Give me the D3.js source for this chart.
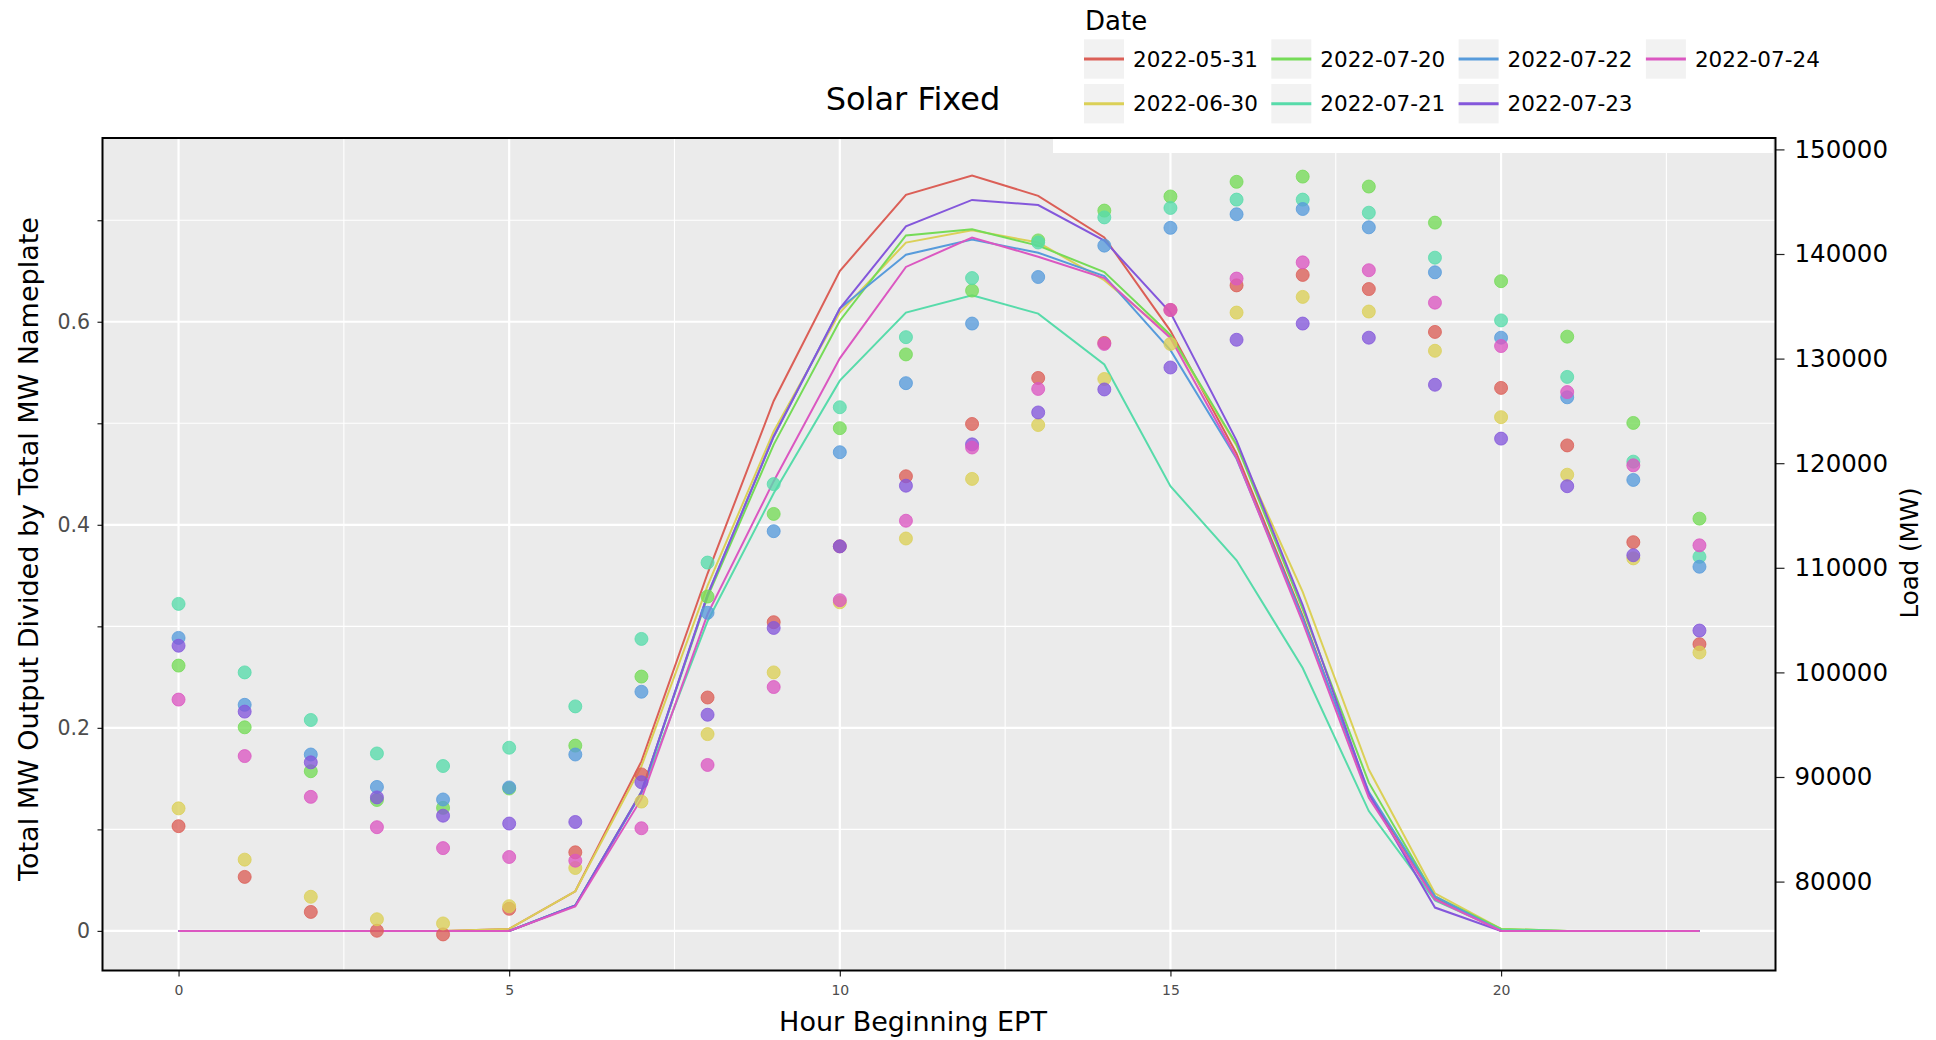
<!DOCTYPE html>
<html>
<head>
<meta charset="utf-8">
<script src="https://cdn.jsdelivr.net/npm/d3@7"></script>
<style>
  body { margin: 0; background: #fff; }
  svg { display: block; }
  text { font-family: "DejaVu Sans", sans-serif; }
</style>
</head>
<body>
<svg id="chart" width="1936" height="1040"></svg>
<script>
// Categories
const hours = [0, 1, 2, 3, 4, 5, 6, 7, 8, 9, 10, 11, 12, 13, 14, 15, 16, 17, 18, 19, 20, 21, 22, 23];
const dates = ["2022-05-31", "2022-06-30", "2022-07-20", "2022-07-21", "2022-07-22", "2022-07-23", "2022-07-24"];
const colors = ["#db5f57", "#dbd057", "#75db57", "#57dbaa", "#579bdb", "#8457db", "#db57c1"];

// Solar fixed output / nameplate (lines, left axis)
const solar_0531 = [0, 0, 0, 0, 0, 0.002, 0.039, 0.167, 0.352, 0.522, 0.650, 0.725, 0.744, 0.724, 0.683, 0.591, 0.470, 0.310, 0.135, 0.033, 0, 0, 0, 0];
const solar_0630 = [0, 0, 0, 0, 0, 0.002, 0.039, 0.162, 0.340, 0.492, 0.609, 0.678, 0.690, 0.678, 0.641, 0.586, 0.478, 0.334, 0.159, 0.037, 0.002, 0, 0, 0];
const solar_0720 = [0, 0, 0, 0, 0, 0, 0.025, 0.137, 0.329, 0.479, 0.601, 0.685, 0.691, 0.675, 0.649, 0.587, 0.479, 0.317, 0.146, 0.034, 0.002, 0, 0, 0];
const solar_0721 = [0, 0, 0, 0, 0, 0, 0.025, 0.136, 0.305, 0.431, 0.542, 0.609, 0.626, 0.608, 0.558, 0.438, 0.365, 0.259, 0.118, 0.030, 0.001, 0, 0, 0];
const solar_0722 = [0, 0, 0, 0, 0, 0, 0.025, 0.136, 0.331, 0.487, 0.613, 0.666, 0.681, 0.668, 0.645, 0.572, 0.465, 0.308, 0.137, 0.034, 0, 0, 0, 0];
const solar_0723 = [0, 0, 0, 0, 0, 0, 0.025, 0.137, 0.331, 0.487, 0.613, 0.694, 0.720, 0.715, 0.680, 0.609, 0.483, 0.321, 0.135, 0.023, 0, 0, 0, 0];
const solar_0724 = [0, 0, 0, 0, 0, 0, 0.024, 0.130, 0.312, 0.443, 0.564, 0.654, 0.683, 0.664, 0.643, 0.584, 0.466, 0.304, 0.131, 0.031, 0, 0, 0, 0];

// Load in MW (points, right axis)
const load_0531 = [85300, 80450, 77100, 75300, 74950, 77400, 82800, 90250, 97600, 104800, 112050, 118750, 123750, 128150, 131500, 134650, 137000, 138000, 136650, 132550, 127200, 121700, 112450, 102700];
const load_0630 = [87000, 82100, 78550, 76400, 76000, 77650, 81300, 87650, 94100, 100000, 106700, 112800, 118500, 123650, 128050, 131400, 134400, 135900, 134500, 130750, 124400, 118900, 110900, 101900];
const load_0720 = [100650, 94750, 90550, 87800, 87050, 88900, 93000, 99600, 107250, 115150, 123350, 130400, 136500, 141300, 144150, 145500, 146900, 147400, 146450, 143000, 137400, 132100, 123850, 114700];
const load_0721 = [106550, 100000, 95450, 92250, 91050, 92800, 96750, 103200, 110500, 118000, 125350, 132050, 137700, 141100, 143500, 144400, 145200, 145200, 143950, 139650, 133650, 128250, 120150, 111050];
const load_0722 = [103300, 96900, 92150, 89050, 87850, 89000, 92150, 98150, 105700, 113500, 121050, 127650, 133350, 137800, 140800, 142500, 143800, 144300, 142550, 138250, 132000, 126300, 118400, 110100];
const load_0723 = [102550, 96250, 91400, 88050, 86300, 85550, 85700, 89500, 95950, 104250, 112050, 117850, 121800, 124850, 127050, 129150, 131800, 133350, 132000, 127500, 122350, 117800, 111200, 104000];
const load_0724 = [97400, 92000, 88100, 85200, 83200, 82350, 82000, 85100, 91150, 98600, 106900, 114500, 121500, 127100, 131400, 134650, 137650, 139200, 138450, 135350, 131200, 126800, 119800, 112150];

// Ticks
const xTicks = [0, 5, 10, 15, 20];
const xMinor = [2.5, 7.5, 12.5, 17.5, 22.5];
const yTicks = [0, 0.2, 0.4, 0.6];
const yMinor = [0.1, 0.3, 0.5, 0.7];
const loadTicks = [80000, 90000, 100000, 110000, 120000, 130000, 140000, 150000];

const solarAll = [solar_0531, solar_0630, solar_0720, solar_0721, solar_0722, solar_0723, solar_0724];
const loadAll = [load_0531, load_0630, load_0720, load_0721, load_0722, load_0723, load_0724];

const series = dates.map((date, i) => ({
  date: date,
  color: colors[i],
  solar: hours.map((h, j) => ({ hour: h, v: solarAll[i][j] })),
  load: hours.map((h, j) => ({ hour: h, v: loadAll[i][j] })),
}));

// The svg
const svg = d3.select("#chart");
const panel = { left: 102.5, right: 1775.5, top: 138, bottom: 970.5 };

const x = d3.scaleLinear().domain([-1.15, 24.15]).range([panel.left, panel.right]);
const yL = d3.scaleLinear().domain([-0.039, 0.781]).range([panel.bottom, panel.top]);
const yR = d3.scaleLinear().domain([71500, 151090]).range([panel.bottom, panel.top]);

// panel background + grid
svg.append("rect")
  .attr("x", panel.left).attr("y", panel.top)
  .attr("width", panel.right - panel.left).attr("height", panel.bottom - panel.top)
  .attr("fill", "#ebebeb");

const grid = svg.append("g");
grid.selectAll(".xminor").data(xMinor).join("line")
  .attr("x1", d => x(d)).attr("x2", d => x(d))
  .attr("y1", panel.top).attr("y2", panel.bottom)
  .attr("stroke", "#fff").attr("stroke-width", 1.1);
grid.selectAll(".yminor").data(yMinor).join("line")
  .attr("y1", d => yL(d)).attr("y2", d => yL(d))
  .attr("x1", panel.left).attr("x2", panel.right)
  .attr("stroke", "#fff").attr("stroke-width", 1.1);
grid.selectAll(".xmajor").data(xTicks).join("line")
  .attr("x1", d => x(d)).attr("x2", d => x(d))
  .attr("y1", panel.top).attr("y2", panel.bottom)
  .attr("stroke", "#fff").attr("stroke-width", 2.2);
grid.selectAll(".ymajor").data(yTicks).join("line")
  .attr("y1", d => yL(d)).attr("y2", d => yL(d))
  .attr("x1", panel.left).attr("x2", panel.right)
  .attr("stroke", "#fff").attr("stroke-width", 2.2);

// legend box sits over the top of the panel
svg.append("rect")
  .attr("x", 1053).attr("y", 0).attr("width", 720).attr("height", 153)
  .attr("fill", "#fff");

// solar lines
const line = d3.line().x(d => x(d.hour)).y(d => yL(d.v));
svg.append("g").selectAll("path").data(series).join("path")
  .attr("d", d => line(d.solar))
  .attr("fill", "none")
  .attr("stroke", d => d.color)
  .attr("stroke-width", 2);

// load points
svg.append("g").selectAll("g").data(series).join("g")
  .attr("fill", d => d.color)
  .attr("stroke", d => d.color)
  .selectAll("circle").data(d => d.load).join("circle")
  .attr("cx", d => x(d.hour))
  .attr("cy", d => yR(d.v))
  .attr("r", 6.5)
  .attr("fill-opacity", 0.78)
  .attr("stroke-opacity", 0.78)
  .attr("stroke-width", 1);

// axes
const styleAxis = (g, color, size) => {
  g.select(".domain").remove();
  g.selectAll(".tick line").attr("stroke", "#222").attr("stroke-width", 1.2);
  g.selectAll(".tick text").attr("fill", color).style("font-size", size + "px")
    .style("font-family", '"DejaVu Sans", sans-serif');
};

svg.append("g").attr("transform", `translate(${panel.left},0)`)
  .call(d3.axisLeft(yL).tickValues(yTicks).tickSize(5).tickPadding(7.5).tickFormat(d => d === 0 ? "0" : d3.format(".1f")(d)))
  .call(g => styleAxis(g, "#4d4d4d", 20.5));
svg.append("g").attr("transform", `translate(${panel.left},0)`)
  .call(d3.axisLeft(yL).tickValues(yMinor).tickSize(5).tickFormat(""))
  .call(g => styleAxis(g, "#4d4d4d", 10));

svg.append("g").attr("transform", `translate(0,${panel.bottom})`)
  .call(d3.axisBottom(x).tickValues(xTicks).tickSize(6).tickPadding(8.5))
  .call(g => styleAxis(g, "#4d4d4d", 14));

svg.append("g").attr("transform", `translate(${panel.right},0)`)
  .call(d3.axisRight(yR).tickValues(loadTicks).tickSize(9).tickPadding(10).tickFormat(d3.format("d")))
  .call(g => styleAxis(g, "#000", 24.5));

// frame
svg.append("rect")
  .attr("x", panel.left).attr("y", panel.top)
  .attr("width", panel.right - panel.left).attr("height", panel.bottom - panel.top)
  .attr("fill", "none").attr("stroke", "#000").attr("stroke-width", 2);

// titles
svg.append("text").attr("x", 913).attr("y", 110).attr("text-anchor", "middle")
  .style("font-size", "32px").attr("fill", "#000").text("Solar Fixed");
svg.append("text").attr("x", 913).attr("y", 1031).attr("text-anchor", "middle")
  .style("font-size", "27px").attr("fill", "#000").text("Hour Beginning EPT");
svg.append("text").attr("transform", "translate(38,549) rotate(-90)").attr("text-anchor", "middle")
  .style("font-size", "27px").attr("fill", "#000").text("Total MW Output Divided by Total MW Nameplate");
svg.append("text").attr("transform", "translate(1918,553) rotate(-90)").attr("text-anchor", "middle")
  .style("font-size", "24.5px").attr("fill", "#000").text("Load (MW)");

// legend
const legend = svg.append("g");
legend.append("text").attr("x", 1085).attr("y", 30)
  .style("font-size", "26px").attr("fill", "#000").text("Date");
const item = legend.selectAll(".item").data(series).join("g")
  .attr("transform", (d, i) => `translate(${1084 + Math.floor(i / 2) * 187.3},${39.3 + (i % 2) * 44.7})`);
item.append("rect").attr("width", 40).attr("height", 39.4).attr("fill", "#f2f2f2");
item.append("line").attr("x1", 0).attr("x2", 40).attr("y1", 19.7).attr("y2", 19.7)
  .attr("stroke", d => d.color).attr("stroke-width", 3);
item.append("text").attr("x", 49).attr("y", 27.4)
  .style("font-size", "21.5px").attr("fill", "#000").text(d => d.date);
</script>
</body>
</html>
